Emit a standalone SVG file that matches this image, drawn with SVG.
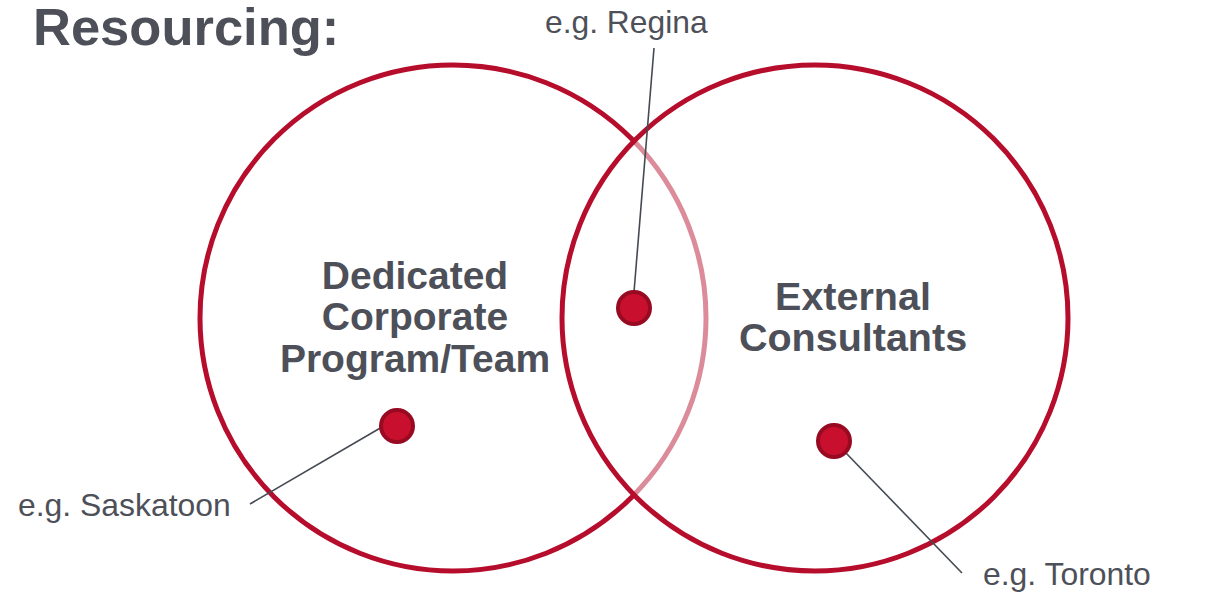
<svg xmlns="http://www.w3.org/2000/svg" width="1228" height="594" viewBox="0 0 1228 594">
<style>
.ring{fill:none;stroke:#b50d2b;stroke-width:5}
.dot{fill:#c8102e;stroke:#970a22;stroke-width:4}
.lead{stroke:#454a52;stroke-width:1.6;fill:none}
.t{font-family:"Liberation Sans",Arial,sans-serif;fill:#4d5058}
.b{font-weight:bold}
</style>
<rect width="1228" height="594" fill="#ffffff"/>
<text class="t b" x="33" y="45" font-size="52.5">Resourcing:</text>
<g id="left-circle">
<circle class="ring" cx="453" cy="318" r="253"/>
<text class="t b" font-size="39" text-anchor="middle"><tspan x="415" y="289">Dedicated</tspan><tspan x="415" y="330">Corporate</tspan><tspan x="415" y="372">Program/Team</tspan></text>
</g>
<g id="right-circle">
<circle cx="815" cy="318" r="253" fill="#ffffff" fill-opacity="0.52" stroke="#b50d2b" stroke-width="5"/>
<text class="t b" font-size="39.5" text-anchor="middle"><tspan x="853" y="310">External</tspan><tspan x="853" y="351">Consultants</tspan></text>
</g>
<g id="connectors">
<line class="lead" x1="654" y1="48" x2="634" y2="292"/>
<line class="lead" x1="250" y1="504" x2="382" y2="427"/>
<line class="lead" x1="845" y1="452" x2="962" y2="573"/>
</g>
<g id="regina">
<circle class="dot" cx="634" cy="308" r="16"/>
<text class="t" x="545" y="33" font-size="31.8">e.g. Regina</text>
</g>
<g id="saskatoon">
<circle class="dot" cx="397" cy="426" r="16"/>
<text class="t" x="18" y="516" font-size="31.9">e.g. Saskatoon</text>
</g>
<g id="toronto">
<circle class="dot" cx="834" cy="441" r="16"/>
<text class="t" x="983" y="585" font-size="31.9">e.g. Toronto</text>
</g>
</svg>
